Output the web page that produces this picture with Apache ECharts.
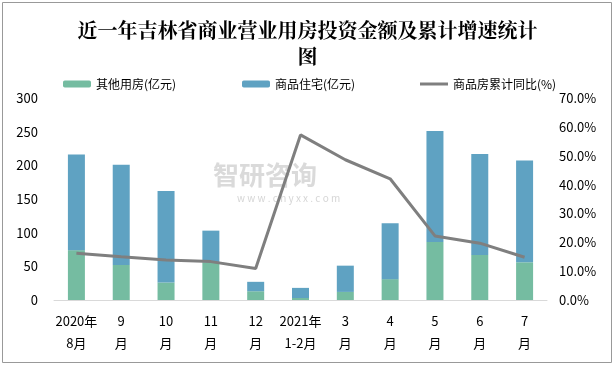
<!DOCTYPE html>
<html><head><meta charset="utf-8">
<script src="https://cdn.jsdelivr.net/npm/echarts@6/dist/echarts.min.js"></script>
<style>html,body{margin:0;padding:0;background:#fff}#c{width:615px;height:368px}</style>
</head><body><div id="c"></div>
<script>
const categories = ['2020年\n8月','9\n月','10\n月','11\n月','12\n月','2021年\n1-2月','3\n月','4\n月','5\n月','6\n月','7\n月'];
const otherValues = [74, 52, 26, 56, 13, 3, 12, 31, 86, 67, 56];
const residentialValues = [142, 149, 136, 47, 14, 15, 39, 83, 165, 150, 151];
const yoyValues = [16.2, 15.0, 13.9, 13.3, 10.9, 57.2, 48.6, 42.0, 22.2, 19.7, 14.8];
const leftTicks = [0, 300, 50];
const rightTicks = [0, 70, 10];

const chart = echarts.init(document.getElementById('c'));
const font = '"Noto Sans CJK SC", sans-serif';
chart.setOption({
  backgroundColor: '#fff',
  animation: false,
  title: {
    text: '近一年吉林省商业营业用房投资金额及累计增速统计\n图',
    left: 'center', top: 12,
    textStyle: {fontSize: 20, fontWeight: 'bold', fontFamily: '"Noto Serif CJK SC", "Noto Sans CJK SC", serif', color: '#000', lineHeight: 26}
  },
  graphic: [
    {type: 'rect', shape: {x: 2.5, y: 2.5, width: 609, height: 360}, style: {fill: 'none', stroke: '#999', lineWidth: 1}, silent: true, z: -1},
    {type: 'text', left: 213, top: 162, style: {text: '智研咨询', fontSize: 26, fontFamily: font, fill: 'rgba(150,150,150,0.35)', fontWeight: 'bold'}, silent: true},
    {type: 'text', left: 237, top: 193, style: {text: 'w w w . c h y x x . c o m', fontSize: 10, fontFamily: font, fill: 'rgba(150,150,150,0.4)'}, silent: true}
  ],
  legend: [
    {data: ['其他用房(亿元)'], left: 58, top: 73, itemWidth: 28, itemHeight: 7, itemGap: 4, textStyle: {fontSize: 12, fontFamily: font, color: '#000'}},
    {data: ['商品住宅(亿元)'], left: 237, top: 73, itemWidth: 28, itemHeight: 7, textStyle: {fontSize: 12, fontFamily: font, color: '#000'}},
    {data: [{name: '商品房累计同比(%)', icon: 'rect'}], left: 415, top: 73, itemWidth: 28, itemHeight: 3, textStyle: {fontSize: 12, fontFamily: font, color: '#000'}}
  ],
  grid: {left: 54, right: 68, top: 98, bottom: 68},
  xAxis: {
    type: 'category', data: categories,
    axisLine: {lineStyle: {color: '#d9d9d9', width: 1}},
    axisTick: {show: false},
    axisLabel: {color: '#000', fontSize: 13, fontFamily: font, interval: 0, lineHeight: 22, margin: 10}
  },
  yAxis: [
    {type: 'value', min: leftTicks[0], max: leftTicks[1], interval: leftTicks[2],
     splitLine: {show: false}, axisLine: {show: false}, axisTick: {show: false},
     axisLabel: {color: '#000', fontSize: 13, fontFamily: font, margin: 16}},
    {type: 'value', min: rightTicks[0], max: rightTicks[1], interval: rightTicks[2],
     splitLine: {show: false}, axisLine: {show: false}, axisTick: {show: false},
     axisLabel: {color: '#000', fontSize: 13, fontFamily: font, margin: 12, formatter: v => v.toFixed(1) + '%'}}
  ],
  series: [
    {name: '其他用房(亿元)', type: 'bar', stack: 'a', data: otherValues, barWidth: 17, itemStyle: {color: '#75BCA1'}},
    {name: '商品住宅(亿元)', type: 'bar', stack: 'a', data: residentialValues, barWidth: 17, itemStyle: {color: '#5FA2C2'}},
    {name: '商品房累计同比(%)', type: 'line', yAxisIndex: 1, data: yoyValues, symbol: 'none', lineStyle: {color: '#7F7F7F', width: 3}, itemStyle: {color: '#7F7F7F'}, z: 5}
  ]
});
</script></body></html>
